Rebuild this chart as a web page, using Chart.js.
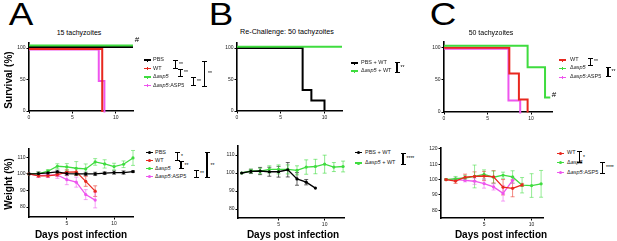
<!DOCTYPE html>
<html>
<head>
<meta charset="utf-8">
<script src="https://cdn.jsdelivr.net/npm/chart.js@4.4.1/dist/chart.umd.min.js"></script>
<style>
  body { margin: 0; width: 617px; height: 241px; background: #fff; position: relative; overflow: hidden;
         font-family: "Liberation Sans", Arial, sans-serif; color: #000; }
  canvas { position: absolute; }
  .t { position: absolute; white-space: nowrap; line-height: 1; }
  .br { position: absolute; width: 5px; box-sizing: border-box; border-top: 1.3px solid #000; border-bottom: 1.3px solid #000; }
  .br::after { content: ""; position: absolute; left: 1.9px; top: 0; bottom: 0; width: 1.3px; background: #000; }
  .mk { position: absolute; height: 1.2px; }
  .tick { position: absolute; width: 1px; height: 3px; }
  .dot { position: absolute; width: 3px; height: 3px; border-radius: 50%; }
</style>
</head>
<body>
<script>
// ---------- data ----------
const survTicksX = [0, 5, 10];
const survTicksY = [0, 50, 100];
const weightTicksX = [5, 10];
const weightTicksY = [80, 90, 100, 110];
const weightTicksYC = [80, 90, 100, 110, 120];

// A: 15 tachyzoites
const namesA = ["PBS", "WT", "Δasp5", "Δasp5:ASP5"];
const aSurvPbsT = [0, 12],          aSurvPbs = [100, 100];
const aSurvWtT = [0, 8.45],         aSurvWt = [100, 0];
const aSurvDelT = [0, 12],          aSurvDel = [100, 100];
const aSurvCompT = [0, 8.05, 8.7],  aSurvComp = [100, 50, 0];

const aDays = [1, 2, 3, 4, 5, 6, 7, 8, 9, 10, 11, 12];
const aWPbs  = [100, 100.2, 100.6, 101.2, 100.2, 100, 100, 100, 100.4, 100.8, 100.8, 101.4];
const aEPbs  = [0, 1, 1, 1, 1.2, 1, 1, 1, 0.8, 1, 1, 0.5];
const aWWt   = [100, 98.8, 98.8, 99.6, 101, 101.2, 95.5, 89.6];
const aEWt   = [0, 1, 1, 1.2, 1.5, 2, 3, 3.2];
const aWDel  = [100, 100, 101.6, 104.6, 104.2, 103.4, 103, 107.2, 106, 104.4, 105.8, 109.6];
const aEDel  = [0, 1, 1, 1.5, 2, 4, 3, 2, 2.5, 2, 2, 4.5];
const aWComp = [100, 99, 99.3, 99.3, 96.5, 95, 87.5, 84.2];
const aEComp = [0, 1, 1.5, 2, 3, 3, 3, 4.7];

// B: re-challenge, 50 tachyzoites
const namesB = ["PBS + WT", "Δasp5 + WT"];
const bSurvPbsT = [0, 7.5, 8.5, 10], bSurvPbs = [100, 33.3, 16.7, 0];
const bSurvDelT = [0, 12],           bSurvDel = [100, 100];
const bDays = [1, 2, 3, 4, 5, 6, 7, 8, 9, 10, 11, 12];
const bWPbs = [100, 100.9, 101.1, 100.7, 100.7, 101.8, 96.7, 94.9, 91.6];
const bEPbs = [0, 1.2, 2, 2.5, 3, 4, 3.5, 1.5, 0];
const bWDel = [100, 101.1, 101.1, 102, 102, 102, 101.5, 103.3, 103.6, 104.9, 103.3, 103.6];
const bEDel = [0, 1, 1.5, 2, 2.5, 2.5, 2.5, 4, 4, 5, 2.5, 3];

// C: 50 tachyzoites
const namesC = ["WT", "Δasp5", "Δasp5:ASP5"];
const cSurvWtT = [0, 7.5, 8.6, 9.6],    cSurvWt = [100, 60, 20, 0];
const cSurvDelT = [0, 9.6, 11.6, 12.2], cSurvDel = [100, 66.7, 20, 20];
const cSurvCompT = [0, 7.4, 8.75],      cSurvComp = [100, 20, 0];
const cDays = [1, 2, 3, 4, 5, 6, 7, 8, 9, 10, 11];
const cWWt   = [100, 99, 101.5, 102, 102.3, 101.8, 95, 94.3, 96.5];
const cEWt   = [0.5, 1.5, 2, 3, 3, 4, 5, 5.5, 1];
const cWDel  = [100, 100.5, 101, 102, 103.3, 101.5, 102.8, 101.7, 96.3, 96.1, 97.2];
const cEDel  = [0.5, 1.5, 1.5, 7.4, 3, 4, 2, 4, 5, 7.7, 8.7];
const cWComp = [100, 100, 99.5, 98.9, 97.4, 95.2, 91, 99.5];
const cEComp = [0, 1, 1, 2, 3, 2, 5, 2];

const BLACK = "#000000", RED = "#e8281e", GREEN = "#3fdc3f", MAGENTA = "#ee55ee";

// ---------- helpers ----------
Chart.defaults.font.family = '"Liberation Sans", Arial, sans-serif';

const xy = (xs, ys) => ys.map((v, i) => ({ x: xs[i], y: v }));

// error bars, drawn under the lines
const errorBars = {
  id: "errorBars",
  beforeDatasetsDraw(chart) {
    const ctx = chart.ctx, ys = chart.scales.y;
    chart.data.datasets.forEach((ds, i) => {
      if (!ds.errors) return;
      const meta = chart.getDatasetMeta(i);
      ctx.save();
      ctx.strokeStyle = ds.errColor;
      ctx.lineWidth = 1;
      meta.data.forEach((pt, j) => {
        const e = ds.errors[j];
        if (!e) return;
        const v = ds.data[j].y;
        const top = ys.getPixelForValue(v + e), bot = ys.getPixelForValue(v - e);
        ctx.beginPath();
        ctx.moveTo(pt.x, top); ctx.lineTo(pt.x, bot);
        ctx.moveTo(pt.x - 2, top); ctx.lineTo(pt.x + 2, top);
        ctx.moveTo(pt.x - 2, bot); ctx.lineTo(pt.x + 2, bot);
        ctx.stroke();
      });
      ctx.restore();
    });
  }
};

// small vertical shift so overlapping survival curves stay visible (as in the original)
const nudge = {
  id: "nudge",
  beforeDatasetDraw(chart, args) {
    chart.ctx.save();
    const d = chart.data.datasets[args.index].nudge;
    if (d) chart.ctx.translate(0, d);
  },
  afterDatasetDraw(chart) { chart.ctx.restore(); }
};

function makeChart(box, xr, yr, datasets) {
  const yW = 22, xH = 14, padT = 6, padR = 8;
  const cv = document.createElement("canvas");
  const W = Math.round(box.r - box.l) + yW + padR;
  const H = Math.round(box.b - box.t) + padT + xH;
  cv.width = W; cv.height = H;
  cv.style.left = (box.l - yW) + "px";
  cv.style.top = (box.t - padT) + "px";
  document.body.appendChild(cv);
  const axis = (r, isX) => ({
    type: "linear",
    min: r.min, max: r.max,
    afterFit: s => { if (isX) s.height = xH; else s.width = yW; },
    afterBuildTicks: s => { s.ticks = r.ticks.map(v => ({ value: v })); },
    grid: { drawOnChartArea: false, drawTicks: true, tickLength: 2.5, color: "#000", lineWidth: 1 },
    border: { color: "#000", width: 1.6 },
    ticks: { font: { size: 5 }, color: "#222", padding: 1, maxRotation: 0, autoSkip: false }
  });
  return new Chart(cv, {
    type: "line",
    data: { datasets },
    options: {
      responsive: false,
      animation: false,
      layout: { padding: { top: padT, right: padR, left: 0, bottom: 0 } },
      plugins: { legend: { display: false }, tooltip: { enabled: false } },
      scales: { x: axis(xr, true), y: axis(yr, false) }
    },
    plugins: [errorBars, nudge]
  });
}

const surv = (t, v, color, nudgeY) => ({
  data: xy(t, v), stepped: "before", borderColor: color, borderWidth: 2,
  pointRadius: 0, fill: false, clip: false, nudge: nudgeY
});
const weight = (d, v, e, color, errColor) => ({
  data: xy(d, v), errors: e, errColor, borderColor: color, backgroundColor: color,
  borderWidth: 1.3, pointRadius: 1.6, pointBorderWidth: 0, clip: false
});

function txt(html, x, y, size, opt = {}) {
  const d = document.createElement("div");
  d.className = "t";
  d.innerHTML = html;
  d.style.left = x + "px";
  d.style.top = y + "px";
  d.style.fontSize = size + "px";
  if (opt.bold) d.style.fontWeight = "bold";
  if (opt.color) d.style.color = opt.color;
  let tr = opt.left ? "translate(0,-50%)" : "translate(-50%,-50%)";
  if (opt.rot) tr += " rotate(-90deg)";
  if (opt.sx) tr += " scaleX(" + opt.sx + ")";
  d.style.transform = tr;
  document.body.appendChild(d);
}
const ital = s => s.replace("asp5", "<i>asp5</i>");

function legend(names, colors, mx, tx, ys, dots) {
  names.forEach((n, i) => {
    const m = document.createElement("div");
    m.className = "mk";
    m.style.left = mx + "px"; m.style.top = (ys[i] - 0.6) + "px";
    m.style.width = "7px"; m.style.background = colors[i];
    document.body.appendChild(m);
    const d = document.createElement("div");
    d.className = dots ? "dot" : "tick";
    d.style.left = (mx + (dots ? 2 : 3)) + "px"; d.style.top = (ys[i] - 1.5) + "px";
    d.style.background = colors[i];
    document.body.appendChild(d);
    txt(ital(n), tx, ys[i], 5.5, { left: true, color: "#222" });
  });
}

function bracket(x, y1, y2, label) {
  const b = document.createElement("div");
  b.className = "br";
  b.style.left = (x - 2.5) + "px";
  b.style.top = y1 + "px";
  b.style.height = (y2 - y1) + "px";
  document.body.appendChild(b);
  txt(label, x + 3.5, (y1 + y2) / 2 - 0.5, 5, { left: true });
}

// ---------- panel A ----------
makeChart({ l: 29, t: 43, r: 133, b: 111 }, { min: 0, max: 12, ticks: survTicksX }, { min: 0, max: 108, ticks: survTicksY }, [
  surv(aSurvDelT, aSurvDel, GREEN, -2.5),
  surv(aSurvWtT, aSurvWt, RED, 1),
  surv(aSurvCompT, aSurvComp, MAGENTA, 1.5),
  surv(aSurvPbsT, aSurvPbs, BLACK, -1)
]);
makeChart({ l: 29, t: 149.4, r: 133, b: 217.7 }, { min: 1, max: 12, ticks: weightTicksX }, { min: 74, max: 115, ticks: weightTicksY }, [
  weight(aDays, aWPbs, aEPbs, BLACK, "rgba(0,0,0,0.55)"),
  weight(aDays, aWWt, aEWt, RED, "rgba(232,40,30,0.55)"),
  weight(aDays, aWDel, aEDel, GREEN, "rgba(63,220,63,0.55)"),
  weight(aDays, aWComp, aEComp, MAGENTA, "rgba(238,85,238,0.55)")
]);

// ---------- panel B ----------
makeChart({ l: 237, t: 43, r: 341.6, b: 111 }, { min: 0, max: 12, ticks: survTicksX }, { min: 0, max: 108, ticks: survTicksY }, [
  surv(bSurvDelT, bSurvDel, GREEN, -1.3),
  surv(bSurvPbsT, bSurvPbs, BLACK, 0)
]);
makeChart({ l: 237.5, t: 146, r: 343.3, b: 218 }, { min: 0.6, max: 12.1, ticks: weightTicksX }, { min: 75, max: 115, ticks: weightTicksY }, [
  weight(bDays, bWPbs, bEPbs, BLACK, "rgba(0,0,0,0.6)"),
  weight(bDays, bWDel, bEDel, GREEN, "rgba(63,220,63,0.6)")
]);

// ---------- panel C ----------
makeChart({ l: 444, t: 42, r: 551.5, b: 111.7 }, { min: 0, max: 12.4, ticks: survTicksX }, { min: 0, max: 108, ticks: survTicksY }, [
  surv(cSurvDelT, cSurvDel, GREEN, -1.5),
  surv(cSurvWtT, cSurvWt, RED, 0.5),
  surv(cSurvCompT, cSurvComp, MAGENTA, 1.5)
]);
makeChart({ l: 441, t: 148.4, r: 542.6, b: 218.5 }, { min: 0.47, max: 11.2, ticks: weightTicksX }, { min: 75, max: 120.5, ticks: weightTicksYC }, [
  weight(cDays, cWWt, cEWt, RED, "rgba(232,40,30,0.55)"),
  weight(cDays, cWDel, cEDel, GREEN, "rgba(63,220,63,0.55)"),
  weight(cDays, cWComp, cEComp, MAGENTA, "rgba(238,85,238,0.55)")
]);

// ---------- text ----------
txt("A", 21, 14, 32, { sx: 1.15 });
txt("B", 221, 14, 32, { sx: 1.15 });
txt("C", 443, 14, 32, { sx: 1.15 });
txt("15 tachyzoites", 79, 32, 7);
txt("Re-Challenge: 50 tachyzoites", 287, 32, 7.2);
txt("50 tachyzoites", 491, 32, 7);
txt("#", 137, 40, 8);
txt("#", 554, 95, 8);
txt("Survival (%)", 8.5, 80, 10, { bold: true, rot: true });
txt("Weight (%)", 8.5, 184, 10, { bold: true, rot: true });
txt("Days post infection", 81, 235, 10, { bold: true });
txt("Days post infection", 293, 235, 10, { bold: true });
txt("Days post infection", 501, 235, 10, { bold: true });

// legends + significance brackets
legend(namesA, [BLACK, RED, GREEN, MAGENTA], 144, 153, [60, 68.5, 77, 85.5], false);
bracket(175.5, 60, 68.5, "**");
bracket(180.5, 68.5, 77, "**");
bracket(193.5, 77, 85.5, "**");
bracket(204.5, 61, 86.5, "**");

legend(namesA, [BLACK, RED, GREEN, MAGENTA], 146, 155, [152.5, 160.5, 168.5, 176.5], true);
bracket(177.5, 151.5, 160.5, "*");
bracket(181, 161, 169, "**");
bracket(196.5, 169.5, 177.5, "**");
bracket(207, 152, 178, "**");

legend(namesB, [BLACK, GREEN], 351, 361, [63, 71], false);
bracket(397, 61.5, 72.5, "**");
legend(namesB, [BLACK, GREEN], 355, 365, [152.5, 163], true);
bracket(403, 152.5, 165, "****");

legend(namesC, [RED, GREEN, MAGENTA], 559, 570, [60, 68.3, 77.3], false);
bracket(590.5, 57.5, 65.5, "**");
bracket(608, 66.5, 76.5, "**");
legend(namesC, [RED, GREEN, MAGENTA], 557, 567, [153.3, 162.7, 172.7], true);
bracket(579.5, 151, 163, "*");
bracket(602.5, 161.5, 173.5, "****");
</script>
</body>
</html>
